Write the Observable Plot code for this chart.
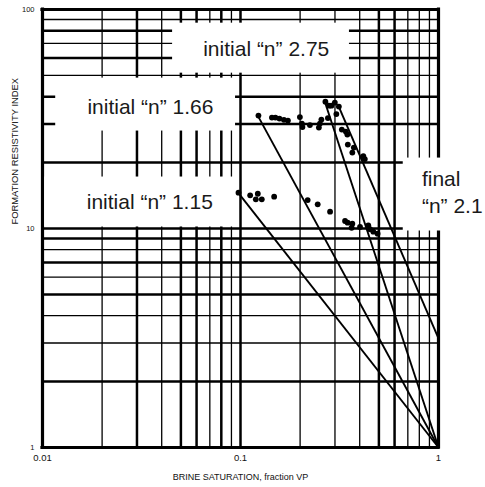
<!DOCTYPE html>
<html>
<head>
<meta charset="utf-8">
<script src="https://cdn.jsdelivr.net/npm/d3@7"></script>
<script src="https://cdn.jsdelivr.net/npm/@observablehq/plot@0.6"></script>
<style>
  body { margin: 0; background: #fff; }
</style>
</head>
<body>
<div id="chart"></div>
<script>
// Resistivity index measurements, upper sample (brine saturation, fraction VP)
const upperSw = [0.1232, 0.1441, 0.1501, 0.1573, 0.1657, 0.1736, 0.1995, 0.2042, 0.2055, 0.2241,
                 0.2488, 0.2518, 0.2562, 0.2684, 0.2763, 0.2795, 0.2877, 0.2996, 0.3049, 0.3139,
                 0.3249, 0.3404, 0.3464, 0.3484, 0.3671, 0.3736, 0.4173, 0.4245];
const upperRI = [32.78, 32.09, 32.09, 31.76, 31.36, 31.10, 32.26, 30.13, 29.04, 29.66,
                 28.89, 30.13, 31.43, 37.96, 31.93, 36.39, 36.39, 37.56, 33.30, 36.02,
                 28.29, 27.70, 26.85, 24.16, 22.22, 23.42, 21.41, 20.75];

// Resistivity index measurements, lower sample
const lowerSw = [0.0977, 0.1119, 0.1223, 0.1195, 0.1281, 0.1479, 0.2184, 0.2454, 0.2834,
                 0.3373, 0.3476, 0.3671, 0.3641, 0.4015, 0.4420, 0.4508, 0.4686, 0.4925];
const lowerRI = [14.57, 14.17, 14.41, 13.59, 13.59, 13.97, 13.49, 12.90, 11.93,
                 10.82, 10.63, 10.52, 10.08, 10.16, 10.34, 9.92, 9.67, 9.47];

// Archie lines: RI = a * Sw^-n, drawn from the first point of each trend to Sw = 1
const fitName   = ["initial n 1.15", "initial n 1.66", "initial n 2.75", "final n 2.1"];
const fitN      = [1.15, 1.66, 2.75, 2.1];
const fitFromSw = [0.0977, 0.1232, 0.2684, 0.31];
const fitA      = [1, 1, 1, 3.15];

// Log-log graph paper rulings (heavy and light) and axis ticks
const xEdges = [0.01, 1];
const yEdges = [1, 100];
const xHeavy = [0.03, 0.05, 0.06, 0.08, 0.1, 0.5, 0.6];
const xLight = [0.02, 0.04, 0.07, 0.09, 0.2, 0.3, 0.4, 0.7, 0.8, 0.9];
const yHeavy = [2, 5, 7, 9, 10, 20, 30, 40, 60, 80];
const yLight = [3, 4, 6, 8, 50, 70, 90];
const xTicks = [0.01, 0.1, 1];
const yTicks = [1, 10, 100];

// Annotation labels
const noteText = ["initial “n” 2.75", "initial “n” 1.66", "initial “n” 1.15", "final", "“n” 2.1"];

const xTitle = "BRINE SATURATION, fraction VP";
const yTitle = "FORMATION RESISTIVITY INDEX";

// ---- tables built from the arrays above ----
const points = [
  ...upperSw.map((sw, i) => ({sw, ri: upperRI[i]})),
  ...lowerSw.map((sw, i) => ({sw, ri: lowerRI[i]}))
];
const fits = fitN.map((n, i) => ({
  name: fitName[i],
  sw1: fitFromSw[i], ri1: fitA[i] * Math.pow(fitFromSw[i], -n),
  sw2: 1, ri2: fitA[i]
}));

// Label placement (data coordinates): white backing boxes and text anchors
const layout = {
  boxes: [
    {x1: 0.0454, x2: 0.355, y1: 51.2, y2: 86.6},
    {x1: 0.01166, x2: 0.0944, y1: 27.86, y2: 48.6},
    {x1: 0.01027, x2: 0.0954, y1: 10.16, y2: 17.18},
    {x1: 0.6637, x2: 1.9, y1: 9.74, y2: 20.97}
  ],
  anchors: [
    {x: 0.0648, y: 65.7},
    {x: 0.01686, y: 35.6},
    {x: 0.01673, y: 13.17},
    {x: 0.8246, y: 16.77},
    {x: 0.8246, y: 12.67}
  ]
};
const notes = noteText.map((t, i) => ({text: t, ...layout.anchors[i]}));

const font = "'Liberation Sans', Arial, Helvetica, sans-serif";
const ink = "#000";

const chart = Plot.plot({
  width: 485,
  height: 487,
  marginLeft: 42,
  marginRight: 47,
  marginTop: 9,
  marginBottom: 40,
  style: {fontFamily: font, background: "#fff", color: "#111", overflow: "visible"},
  x: {type: "log", domain: [0.01, 1]},
  y: {type: "log", domain: [1, 100]},
  marks: [
    // graph paper
    Plot.ruleX(xLight, {stroke: ink, strokeWidth: 1.3}),
    Plot.ruleY(yLight, {stroke: ink, strokeWidth: 1.3}),
    Plot.ruleX(xHeavy, {stroke: ink, strokeWidth: 2.5}),
    Plot.ruleY(yHeavy, {stroke: ink, strokeWidth: 2.5}),
    Plot.ruleX(xEdges, {stroke: ink, strokeWidth: 3.2, strokeLinecap: "square"}),
    Plot.ruleY(yEdges, {stroke: ink, strokeWidth: 3.2, strokeLinecap: "square"}),
    // white label backings
    Plot.rect(layout.boxes, {x1: "x1", x2: "x2", y1: "y1", y2: "y2", fill: "#fff"}),
    // Archie lines
    Plot.link(fits, {x1: "sw1", y1: "ri1", x2: "sw2", y2: "ri2", stroke: ink, strokeWidth: 1.9}),
    // measurements
    Plot.dot(points, {x: "sw", y: "ri", r: 2.9, fill: ink, stroke: "none"}),
    // annotations
    Plot.text(notes, {x: "x", y: "y", text: "text", textAnchor: "start", fontSize: 21, fill: "#1a1a1a"}),
    // axes
    Plot.axisX({ticks: xTicks, tickSize: 0, tickPadding: 7, fontSize: 9.5, tickFormat: d => String(d), label: null}),
    Plot.axisY({ticks: yTicks, tickSize: 0, tickPadding: 8, fontSize: 7.5, tickFormat: d => String(d), label: null}),
    Plot.text([xTitle], {frameAnchor: "bottom", dy: 32, fontSize: 9, fill: "#111"}),
    Plot.text([yTitle], {frameAnchor: "left", dx: -28, dy: -4, rotate: -90, fontSize: 9.4, fill: "#111"})
  ]
});

document.getElementById("chart").appendChild(chart);
</script>
</body>
</html>
